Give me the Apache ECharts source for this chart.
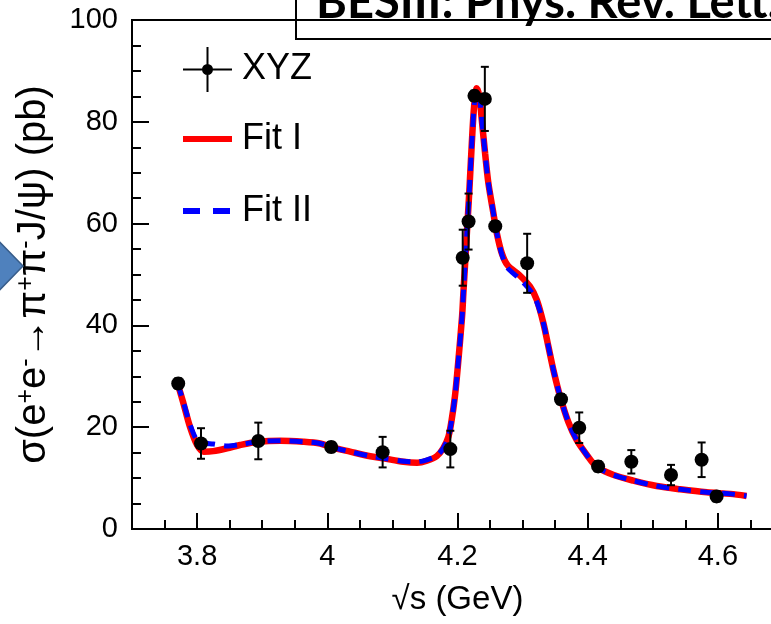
<!DOCTYPE html>
<html>
<head>
<meta charset="utf-8">
<script src="https://cdn.jsdelivr.net/npm/echarts@6/dist/echarts.min.js"></script>
<style>
html,body{margin:0;padding:0;background:#fff;overflow:hidden;width:771px;height:624px;}
#main{width:783px;height:624px;}
</style>
</head>
<body>
<div id="main"></div>
<script>
// ---- data ----
const xyzX   = [3.771, 3.806, 3.894, 4.006, 4.085, 4.189, 4.208, 4.217, 4.226, 4.242, 4.258, 4.307, 4.359, 4.387, 4.416, 4.467, 4.528, 4.575, 4.598];
const xyzY   = [28.6, 16.8, 17.3, 16.1, 15.1, 15.7, 53.3, 60.4, 85.1, 84.5, 59.5, 52.2, 25.5, 19.9, 12.3, 13.2, 10.6, 13.6, 6.4];
const xyzErr = [1.0, 3.0, 3.6, 1.0, 3.0, 3.6, 5.5, 5.5, 1.0, 6.3, 1.0, 5.8, 1.0, 3.0, 1.0, 2.3, 2.0, 3.4, 1.0];

const fitX = [3.770, 3.779, 3.789, 3.800, 3.810, 3.825, 3.846, 3.866, 3.894, 3.928, 3.963, 3.989, 4.007, 4.035, 4.066, 4.086, 4.117, 4.138, 4.153, 4.168, 4.178, 4.186, 4.191, 4.196, 4.200, 4.207, 4.209, 4.212, 4.215, 4.218, 4.222, 4.2255, 4.2296, 4.2337, 4.2373, 4.2424, 4.2475, 4.2552, 4.2604, 4.268, 4.277, 4.295, 4.3115, 4.3218, 4.332, 4.3397, 4.3474, 4.3577, 4.370, 4.383, 4.399, 4.414, 4.440, 4.470, 4.506, 4.542, 4.583, 4.619, 4.644];
const fit1Y = [28.6, 24.7, 20.1, 16.5, 15.2, 15.3, 15.85, 16.5, 17.15, 17.35, 17.15, 16.8, 16.05, 15.2, 14.3, 13.9, 13.2, 13.0, 13.4, 14.3, 15.85, 18.1, 21.4, 26.0, 31.2, 41.7, 46.3, 52.8, 59.4, 66.0, 75.8, 83.0, 86.6, 84.9, 80.4, 73.8, 67.9, 62.0, 58.1, 54.2, 51.8, 49.9, 47.6, 45.0, 40.4, 35.8, 31.2, 26.0, 21.1, 17.5, 14.5, 12.2, 10.6, 9.5, 8.45, 7.8, 7.2, 6.9, 6.5];
const fit2Y = [28.6, 24.9, 20.6, 17.4, 16.9, 16.7, 16.3, 16.6, 17.15, 17.35, 17.15, 16.8, 16.05, 15.2, 14.3, 13.9, 13.3, 13.2, 13.6, 14.4, 15.85, 18.1, 21.4, 26.0, 31.2, 41.7, 46.3, 52.8, 59.4, 66.0, 75.8, 83.0, 86.4, 84.9, 80.4, 73.8, 67.9, 62.0, 58.1, 54.0, 51.3, 49.2, 46.9, 44.6, 40.4, 35.8, 31.2, 26.0, 21.1, 17.5, 14.5, 12.2, 10.6, 9.5, 8.45, 7.8, 7.2, 6.9, 6.5];

const xTickLabels = [3.8, 4.0, 4.2, 4.4, 4.6];
const seriesNames = ['XYZ', 'Fit I', 'Fit II'];

// ---- build ----
const pts = xyzX.map((x, i) => [x, xyzY[i]]);
const errs = xyzX.map((x, i) => [x, xyzY[i] - xyzErr[i], xyzY[i] + xyzErr[i]]);
const fit1 = fitX.map((x, i) => [x, fit1Y[i]]);
const fit2 = fitX.map((x, i) => [x, fit2Y[i]]);

const FONT = "'Liberation Sans', Arial, Helvetica, sans-serif";

const chart = echarts.init(document.getElementById('main'), null, {renderer: 'canvas'});
const option = {
  animation: false,
  backgroundColor: '#fff',
  grid: {left: 132, top: 20, right: 0, bottom: 95, show: true, borderColor: '#000', borderWidth: 2, backgroundColor: 'transparent'},
  xAxis: [{
    type: 'value', min: 3.7, max: 4.7, position: 'bottom',
    axisLine: {show: true, onZero: false, lineStyle: {color: '#000', width: 2}},
    axisTick: {show: true, inside: true, length: 16, lineStyle: {color: '#000', width: 2}, customValues: xTickLabels},
    axisLabel: {show: true, customValues: xTickLabels, color: '#000', fontFamily: FONT, fontSize: 29, margin: 13,
      formatter: v => (Math.abs(v - 4) < 1e-9 ? '4' : v.toFixed(1))},
    splitLine: {show: false},
    name: '\u221As (GeV)', nameLocation: 'middle', nameGap: 54,
    nameTextStyle: {color: '#000', fontFamily: FONT, fontSize: 33}
  }, {
    type: 'value', min: 3.7, max: 4.7, interval: 0.05, position: 'bottom',
    axisLine: {show: false},
    axisTick: {show: true, inside: true, length: 9, lineStyle: {color: '#000', width: 2}},
    axisLabel: {show: false}, splitLine: {show: false}
  }],
  yAxis: {
    type: 'value', min: 0, max: 100, interval: 20,
    axisLine: {show: true, lineStyle: {color: '#000', width: 2}},
    axisTick: {show: true, inside: true, length: 17, lineStyle: {color: '#000', width: 2}},
    minorTick: {show: true, splitNumber: 4, length: 9, lineStyle: {color: '#000', width: 2}},
    axisLabel: {color: '#000', fontFamily: FONT, fontSize: 29, margin: 14},
    splitLine: {show: false},
    name: '{t|\u03C3(e}{s|+}{t|e}{s|-}{t|\u2192\u03C0}{s|+}{t|\u03C0}{s|-}{t|J/\u03C8) (pb)}',
    nameLocation: 'middle', nameGap: 78, nameRotate: 90,
    nameTextStyle: {color: '#000', fontFamily: FONT, fontSize: 40,
      rich: {
        t: {fontFamily: FONT, fontSize: 40, color: '#000'},
        s: {fontFamily: FONT, fontSize: 25, color: '#000', verticalAlign: 'top', padding: [0, 0, 15, 0]}
      }}
  },
  legend: [{
    data: [{name: 'XYZ', icon: 'path://M0 21.5h49v2h-49zM23.5 0h2v45h-2zM19 22.5a5.5 5.5 0 1 1 11 0a5.5 5.5 0 1 1 -11 0z'}],
    left: 183, top: 47, itemWidth: 49, itemHeight: 45, selectedMode: false, padding: 0,
    textStyle: {color: '#000', fontFamily: FONT, fontSize: 36, padding: [0, 0, 0, 5]}
  }, {
    data: [{name: 'Fit I', icon: 'rect'}],
    left: 183, top: 121, itemWidth: 49, itemHeight: 6, selectedMode: false, padding: 0,
    textStyle: {color: '#000', fontFamily: FONT, fontSize: 36, padding: [0, 0, 0, 5]}
  }, {
    data: [{name: 'Fit II', icon: 'path://M0 0h17v6h-17zM30 0h17v6h-17z'}],
    left: 183, top: 193, itemWidth: 47, itemHeight: 6, selectedMode: false, padding: 0,
    textStyle: {color: '#000', fontFamily: FONT, fontSize: 36, padding: [0, 0, 0, 7]}
  }],
  series: [{
    name: 'Fit I', type: 'line', data: fit1, showSymbol: false, smooth: 0.3, z: 2,
    itemStyle: {color: '#ff0000'}, lineStyle: {color: '#ff0000', width: 6.5}
  }, {
    name: 'Fit II', type: 'line', data: fit2, showSymbol: false, smooth: 0.3, z: 3,
    itemStyle: {color: '#0000ff'}, lineStyle: {color: '#0000ff', width: 5, type: [13, 9]}
  }, {
    type: 'custom', z: 4, data: errs,
    renderItem: function (params, api) {
      const x = api.value(0);
      const lo = api.coord([x, api.value(1)]);
      const hi = api.coord([x, api.value(2)]);
      const c = 4;
      const st = {stroke: '#000', lineWidth: 2};
      return {type: 'group', children: [
        {type: 'line', shape: {x1: lo[0], y1: lo[1], x2: hi[0], y2: hi[1]}, style: st},
        {type: 'line', shape: {x1: lo[0] - c, y1: lo[1], x2: lo[0] + c, y2: lo[1]}, style: st},
        {type: 'line', shape: {x1: hi[0] - c, y1: hi[1], x2: hi[0] + c, y2: hi[1]}, style: st}
      ]};
    }
  }, {
    name: 'XYZ', type: 'scatter', data: pts, symbol: 'circle', symbolSize: 14, z: 5,
    itemStyle: {color: '#000', opacity: 1}
  }],
  graphic: [{
    type: 'polygon', z: 10,
    shape: {points: [[-10, 232], [23, 266], [-10, 300]]},
    style: {fill: '#4F81BD', stroke: '#385D8A', lineWidth: 1.5}
  }, {
    type: 'rect', z: 10,
    shape: {x: 296, y: -4, width: 500, height: 43},
    style: {fill: 'none', stroke: '#000', lineWidth: 2}
  }, {
    type: 'text', z: 11, x: 316, y: 3,
    style: {text: 'BESIII: Phys. Rev. Lett.', font: "bold 47px Lato, 'Open Sans', sans-serif", fill: '#000', verticalAlign: 'middle'}
  }]
};
chart.setOption(option);
</script>
</body>
</html>
